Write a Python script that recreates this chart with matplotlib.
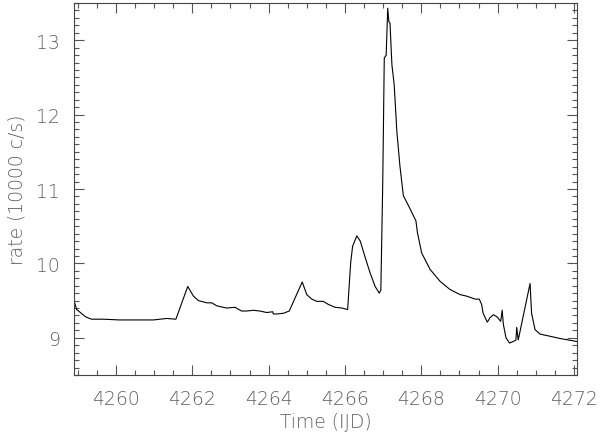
import matplotlib
matplotlib.use('Agg')
import matplotlib.pyplot as plt
from matplotlib.ticker import MultipleLocator

plt.rcParams['font.family'] = ['DejaVu Sans']
plt.rcParams['font.weight'] = 'light'
plt.rcParams['axes.labelweight'] = 'light'

# light curve (time in IJD, rate in 10000 c/s)
time_ijd = [
    4258.90, 4258.97, 4259.21, 4259.36, 4259.67, 4260.10, 4260.54, 4260.98,
    4261.33, 4261.57, 4261.88, 4262.03, 4262.16, 4262.38, 4262.51, 4262.64,
    4262.90, 4263.12, 4263.29, 4263.43, 4263.60, 4263.77, 4263.95, 4264.11,
    4264.12, 4264.21, 4264.39, 4264.54, 4264.88, 4265.00, 4265.13, 4265.26,
    4265.43, 4265.56, 4265.74, 4265.92, 4266.07, 4266.15, 4266.20, 4266.31,
    4266.40, 4266.53, 4266.66, 4266.79, 4266.90, 4266.94, 4266.99, 4267.03,
    4267.08, 4267.12, 4267.15, 4267.18, 4267.23, 4267.29, 4267.36, 4267.44,
    4267.53, 4267.71, 4267.86, 4267.90, 4268.01, 4268.23, 4268.49, 4268.75,
    4269.02, 4269.19, 4269.41, 4269.52, 4269.58, 4269.62, 4269.73, 4269.80,
    4269.89, 4269.99, 4270.08, 4270.12, 4270.15, 4270.22, 4270.31, 4270.41,
    4270.48, 4270.50, 4270.54, 4270.85, 4270.89, 4270.98, 4271.11, 4271.38,
    4271.64, 4271.86, 4272.08,
]
rate = [
    9.50, 9.38, 9.28, 9.25, 9.25, 9.24, 9.24, 9.24,
    9.26, 9.25, 9.69, 9.56, 9.50, 9.47, 9.47, 9.43,
    9.40, 9.41, 9.36, 9.36, 9.37, 9.36, 9.34, 9.35,
    9.32, 9.32, 9.33, 9.36, 9.75, 9.58, 9.52, 9.49,
    9.49, 9.45, 9.41, 9.40, 9.38, 10.01, 10.23, 10.37,
    10.30, 10.08, 9.87, 9.69, 9.60, 9.64, 11.09, 12.76,
    12.80, 13.43, 13.25, 13.23, 12.67, 12.40, 11.77, 11.31,
    10.91, 10.73, 10.57, 10.41, 10.14, 9.92, 9.76, 9.65,
    9.58, 9.56, 9.52, 9.52, 9.45, 9.33, 9.21, 9.27,
    9.31, 9.28, 9.22, 9.37, 9.18, 9.00, 8.93, 8.95,
    8.97, 9.14, 8.97, 9.73, 9.33, 9.11, 9.05, 9.02,
    8.99, 8.97, 8.95,
]

text_color = '#606060'

fig = plt.figure(figsize=(6.0, 4.39), dpi=100)
ax = fig.add_axes([74 / 600, 1 - 376 / 439, (577 - 74) / 600, (376 - 4) / 439])
ax.plot(time_ijd, rate, color='black', linewidth=0.8)

ax.set_xlim(4258.9, 4272.08)
ax.set_ylim(8.5, 13.5)
ax.xaxis.set_major_locator(MultipleLocator(2))
ax.xaxis.set_minor_locator(MultipleLocator(0.5))
ax.yaxis.set_major_locator(MultipleLocator(1))
ax.yaxis.set_minor_locator(MultipleLocator(0.1))
ax.tick_params(which='both', direction='in', top=True, right=True,
               color='#555555', width=0.8, labelsize=13.5, labelcolor=text_color)
ax.tick_params(which='major', length=7, pad=10)
ax.tick_params(which='minor', length=3.5)
for spine in ax.spines.values():
    spine.set_color('#444444')
    spine.set_linewidth(0.8)

ax.set_xlabel('Time (IJD)', fontsize=13.5, color=text_color, labelpad=3)
ax.set_ylabel('rate (10000 c/s)', fontsize=13.5, color=text_color, labelpad=7)

fig.savefig('out.png', dpi=100)
